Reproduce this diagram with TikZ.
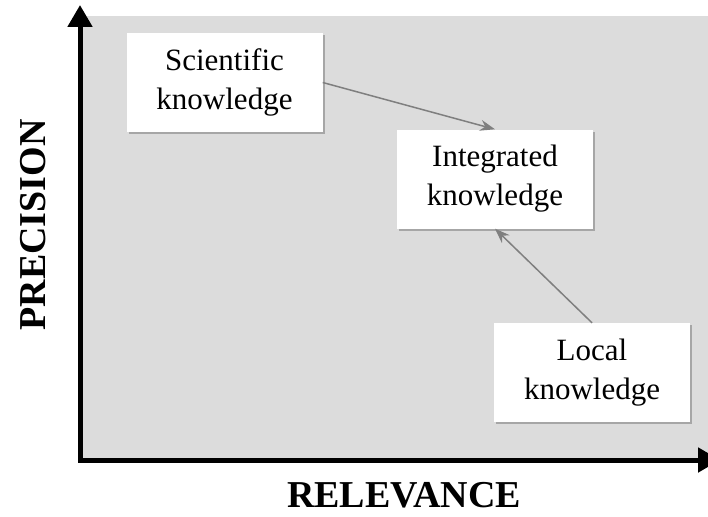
\documentclass[tikz,border=0pt]{standalone}
\usepackage{fontspec}
\setmainfont{Liberation Serif}
\usetikzlibrary{arrows.meta,shadows}
\definecolor{panelgray}{HTML}{DCDCDC}
\definecolor{linkgray}{HTML}{7F7F7F}
\begin{document}
\begin{tikzpicture}[x=1pt,y=-1pt]
\tikzset{kbox/.style={draw=none,fill=white,minimum width=196pt,minimum height=99pt,
    align=center,font=\fontsize{31}{39}\selectfont,
    drop shadow={shadow xshift=2pt,shadow yshift=-2pt,fill=black!35,opacity=1}},
  axislabel/.style={font=\fontsize{38}{40}\selectfont\bfseries},
  axisline/.style={line width=5pt,-{Triangle[length=22pt,width=24pt]}},
  link/.style={draw=linkgray,line width=1.5pt,-{Stealth[length=15pt,width=11pt]}}}
    \useasboundingbox (0,0) rectangle (708,516);
    \fill [panelgray] (80,16) rectangle (708,460);
    \coordinate (o) at (80,460);
    \coordinate (y) at (80,5);
    \coordinate (x) at (720,460);
    \draw [axisline] (o) -- (y);
    \draw [axisline] (78,460) -- (x);
    \node [axislabel,rotate=90] (p) at (33,225) {PRECISION};
    \node [axislabel] (r) at (404,495) {RELEVANCE};
    \node [kbox] (s) at (224.5,82.5) {Scientific\\knowledge};
    \node [kbox] (i) at (495,179) {Integrated\\knowledge};
    \node [kbox] (l) at (592,372.5) {Local\\knowledge};
    \draw [link] (s.east) to (i.north);
    \draw [link] (l.north) to (i.south);
\end{tikzpicture}
\end{document}
